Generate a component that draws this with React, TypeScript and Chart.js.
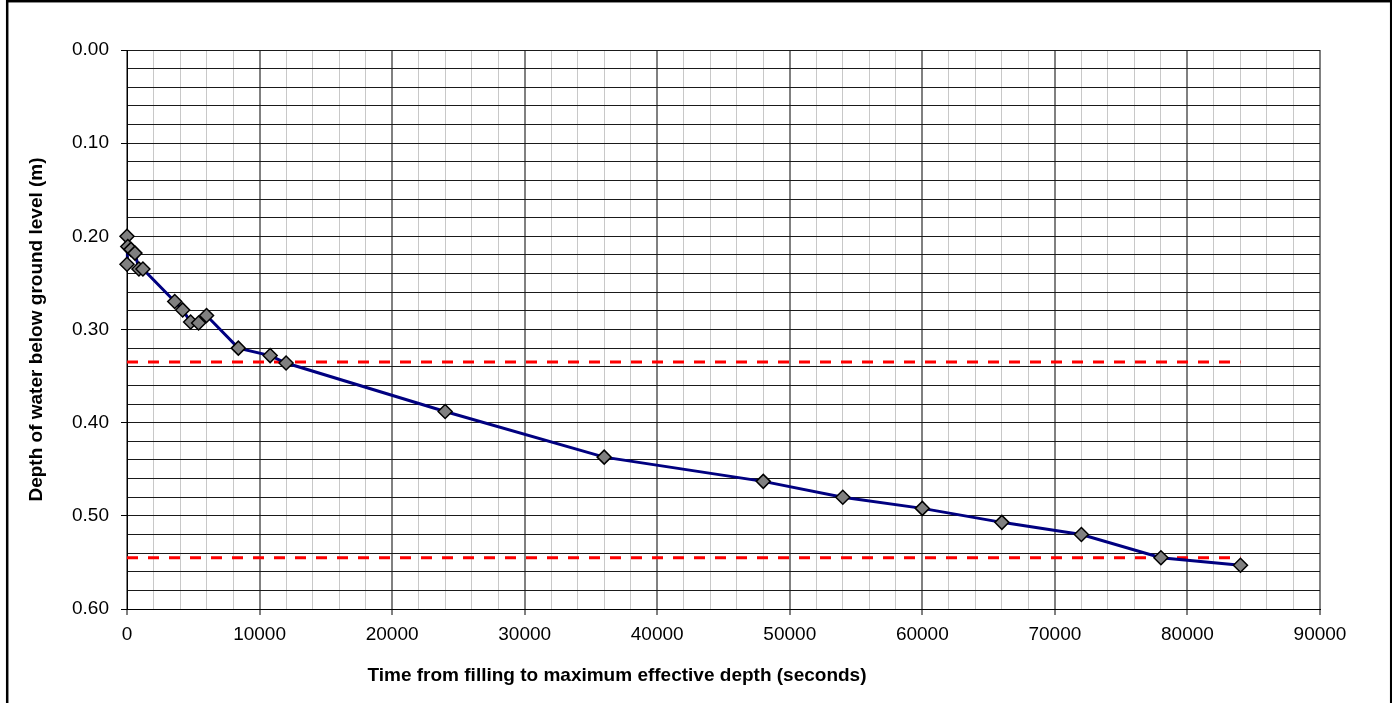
import React, { useEffect, useRef } from 'react';
import { Chart, registerables } from 'chart.js';

Chart.register(...registerables);

// ---- Data ----
const timeSeconds = [0, 0, 60, 300, 600, 900, 1200, 3600, 4200, 4800, 5400, 6000, 8400, 10800, 12000, 24000, 36000, 48000, 54000, 60000, 66000, 72000, 78000, 84000];
const depthMetres = [0.230, 0.200, 0.211, 0.214, 0.218, 0.235, 0.235, 0.270, 0.279, 0.292, 0.293, 0.285, 0.320, 0.328, 0.336, 0.388, 0.437, 0.463, 0.480, 0.492, 0.507, 0.520, 0.545, 0.553];

const thresholdTimes = [0, 84000];
const upperThresholdDepth = 0.335;
const lowerThresholdDepth = 0.545;

const xTickLabels = ['0', '10000', '20000', '30000', '40000', '50000', '60000', '70000', '80000', '90000'];
const yTickLabels = ['0.00', '0.10', '0.20', '0.30', '0.40', '0.50', '0.60'];

const xTitle = 'Time from filling to maximum effective depth (seconds)';
const yTitle = 'Depth of water below ground level (m)';

const FONT = "'Liberation Sans', Arial, sans-serif";

const isMajorX = (v: number) => Math.abs(v / 10000 - Math.round(v / 10000)) < 1e-6;
const isMajorY = (v: number) => Math.abs(v * 10 - Math.round(v * 10)) < 1e-6;

const framePlugin = {
  id: 'frameAndTitles',
  afterDraw(chart: any) {
    const { ctx, chartArea } = chart;
    ctx.save();
    // outer frame
    ctx.strokeStyle = '#000';
    ctx.lineWidth = 2.5;
    ctx.strokeRect(7.2, 1.2, 1384, 800);
    // axis titles
    ctx.fillStyle = '#000';
    ctx.font = `bold 19px ${FONT}`;
    ctx.textAlign = 'center';
    ctx.textBaseline = 'middle';
    ctx.fillText(xTitle, 617, 676);
    ctx.translate(37, (chartArea.top + chartArea.bottom) / 2);
    ctx.rotate(-Math.PI / 2);
    ctx.fillText(yTitle, 0, 0);
    ctx.restore();
  },
};

export default function App() {
  const canvasRef = useRef<HTMLCanvasElement | null>(null);

  useEffect(() => {
    const canvas = canvasRef.current;
    if (!canvas) return;
    const seriesPoints = timeSeconds.map((t, i) => ({ x: t, y: depthMetres[i] }));
    const upperPoints = thresholdTimes.map((t) => ({ x: t, y: upperThresholdDepth }));
    const lowerPoints = thresholdTimes.map((t) => ({ x: t, y: lowerThresholdDepth }));

    const chart = new Chart(canvas, {
      type: 'scatter',
      data: {
        datasets: [
          {
            data: seriesPoints,
            showLine: true,
            borderColor: '#000080',
            borderWidth: 3,
            pointStyle: 'rectRot',
            pointRadius: 7,
            pointBackgroundColor: '#808080',
            pointBorderColor: '#000000',
            pointBorderWidth: 1.5,
            order: 0,
            clip: false,
          },
          {
            data: upperPoints,
            showLine: true,
            borderColor: '#ff0000',
            borderWidth: 3,
            borderDash: [11, 10],
            pointRadius: 0,
            order: 1,
            clip: false,
          },
          {
            data: lowerPoints,
            showLine: true,
            borderColor: '#ff0000',
            borderWidth: 3,
            borderDash: [11, 10],
            pointRadius: 0,
            order: 1,
            clip: false,
          },
        ],
      } as any,
      options: {
        responsive: false,
        animation: false,
        devicePixelRatio: 1,
        layout: { padding: { top: 50, left: 0, right: 72, bottom: 0 } },
        plugins: { legend: { display: false }, tooltip: { enabled: false }, title: { display: false } },
        font: { family: FONT, size: 19 } as any,
        scales: {
          x: {
            type: 'linear',
            min: 0,
            max: 90000,
            ticks: {
              stepSize: 2000,
              autoSkip: false,
              maxRotation: 0,
              minRotation: 0,
              padding: 8,
              color: '#000',
              font: { family: FONT, size: 19 },
              callback: (v: any) => (isMajorX(Number(v)) ? xTickLabels[Math.round(Number(v) / 10000)] : ''),
            },
            grid: {
              color: (c: any) => (c.tick && isMajorX(c.tick.value) ? '#808080' : '#c8c8c8'),
              lineWidth: (c: any) => (c.tick && isMajorX(c.tick.value) ? 2 : 1),
              tickColor: (c: any) => (c.tick && isMajorX(c.tick.value) ? '#000' : 'rgba(0,0,0,0)'),
              tickLength: 6,
              tickWidth: 1,
            },
            border: { color: '#000', width: 1 },
            afterFit: (s: any) => {
              s.height = 94;
            },
          },
          y: {
            type: 'linear',
            min: 0,
            max: 0.6,
            reverse: true,
            ticks: {
              stepSize: 0.02,
              autoSkip: false,
              padding: 12,
              color: '#000',
              font: { family: FONT, size: 19 },
              callback: (v: any) => (isMajorY(Number(v)) ? yTickLabels[Math.round(Number(v) * 10)] : ''),
            },
            grid: {
              color: '#1a1a1a',
              lineWidth: 1,
              tickColor: (c: any) => (c.tick && isMajorY(c.tick.value) ? '#000' : 'rgba(0,0,0,0)'),
              tickLength: 6,
              tickWidth: 1,
            },
            border: { color: '#000', width: 1 },
            afterFit: (s: any) => {
              s.width = 127;
            },
          },
        },
      } as any,
      plugins: [framePlugin],
    });
    return () => chart.destroy();
  }, []);

  return (
    <div style={{ position: 'absolute', left: 0, top: 0, width: 1392, height: 703, background: '#fff' }}>
      <canvas ref={canvasRef} width={1392} height={703} style={{ display: 'block' }} />
    </div>
  );
}
